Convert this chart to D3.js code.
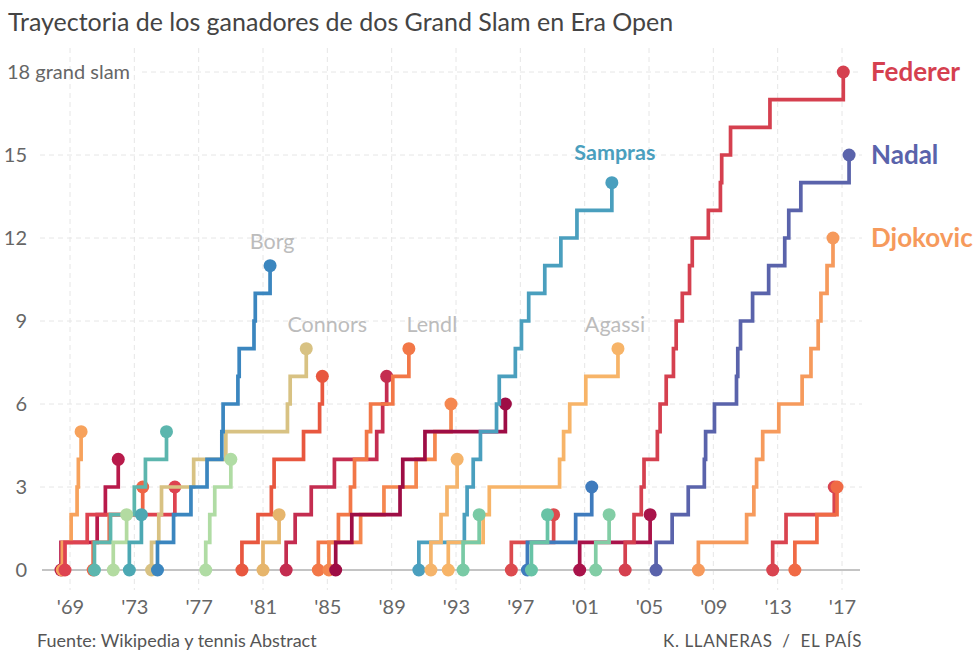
<!DOCTYPE html>
<html><head><meta charset="utf-8">
<script src="https://cdn.jsdelivr.net/npm/d3@7"></script>
<style>
body{margin:0;background:#fff;}
svg{font-family:Lato,"Open Sans",sans-serif;display:block;}
</style></head><body>
<svg id="chart" width="980" height="659"></svg>
<script>
// ---------- DATA ----------
const yTicks = [0, 3, 6, 9, 12, 15];
const xTickYears = [1969, 1973, 1977, 1981, 1985, 1989, 1993, 1997, 2001, 2005, 2009, 2013, 2017];
const xTickLabels = ["'69", "'73", "'77", "'81", "'85", "'89", "'93", "'97", "'01", "'05", "'09", "'13", "'17"];

// date (fractional year) of each Grand Slam title, per player
const rosewall  = [1968.44, 1970.69, 1971.20, 1972.00];
const laver     = [1968.52, 1969.07, 1969.44, 1969.52, 1969.69];
const ashe      = [1968.69, 1970.07, 1975.52];
const kodes     = [1970.44, 1971.44, 1973.52];
const newcombe  = [1970.52, 1971.52, 1973.00, 1973.69, 1975.00];
const smith     = [1971.69, 1972.52];
const nastase   = [1972.69, 1973.44];
const connors   = [1974.07, 1974.52, 1974.69, 1976.69, 1978.69, 1982.52, 1982.69, 1983.69];
const borg      = [1974.44, 1975.44, 1976.52, 1977.52, 1978.44, 1978.52, 1979.44, 1979.52, 1980.44, 1980.52, 1981.44];
const vilas     = [1977.44, 1977.69, 1978.00, 1979.00];
const mcenroe   = [1979.69, 1980.69, 1981.52, 1981.69, 1983.52, 1984.52, 1984.69];
const kriek     = [1981.00, 1982.00];
const wilander  = [1982.44, 1983.00, 1984.00, 1985.44, 1988.07, 1988.44, 1988.69];
const lendl     = [1984.44, 1985.69, 1986.44, 1986.69, 1987.44, 1987.69, 1989.07, 1990.07];
const edberg    = [1985.10, 1987.07, 1988.52, 1990.52, 1991.69, 1992.69];
const becker    = [1985.52, 1986.52, 1989.52, 1989.69, 1991.07, 1996.07];
const sampras   = [1990.69, 1993.52, 1993.69, 1994.07, 1994.52, 1995.52, 1995.69, 1996.69, 1997.07, 1997.52, 1998.52, 1999.52, 2000.52, 2002.69];
const courier   = [1991.44, 1992.07, 1992.44, 1993.07];
const agassi    = [1992.52, 1994.69, 1995.07, 1999.44, 1999.69, 2000.07, 2001.07, 2003.07];
const bruguera  = [1993.44, 1994.44];
const kafelnikov= [1996.44, 1999.07];
const kuerten   = [1997.44, 2000.44, 2001.44];
const rafter    = [1997.69, 1998.69];
const safin     = [2000.69, 2005.07];
const hewitt    = [2001.69, 2002.52];
const federer   = [2003.52, 2004.07, 2004.52, 2004.69, 2005.52, 2005.69, 2006.07, 2006.52, 2006.69, 2007.07, 2007.52, 2007.69, 2008.69, 2009.44, 2009.52, 2010.07, 2012.52, 2017.08];
const nadal     = [2005.44, 2006.44, 2007.44, 2008.44, 2008.52, 2009.07, 2010.44, 2010.52, 2010.69, 2011.44, 2012.44, 2013.44, 2013.69, 2014.44, 2017.44];
const djokovic  = [2008.07, 2011.07, 2011.52, 2011.69, 2012.07, 2013.07, 2014.52, 2015.07, 2015.52, 2015.69, 2016.07, 2016.44];
const murray    = [2012.69, 2013.52, 2016.52];
const wawrinka  = [2014.07, 2015.44, 2016.69];

const playerNames = ["Rosewall","Laver","Ashe","Kodes","Newcombe","Smith","Nastase","Connors","Borg","Vilas",
  "McEnroe","Kriek","Wilander","Lendl","Edberg","Becker","Sampras","Courier","Agassi","Bruguera",
  "Kafelnikov","Kuerten","Rafter","Safin","Hewitt","Federer","Nadal","Djokovic","Murray","Wawrinka"];
const playerTitles = [rosewall, laver, ashe, kodes, newcombe, smith, nastase, connors, borg, vilas,
  mcenroe, kriek, wilander, lendl, edberg, becker, sampras, courier, agassi, bruguera,
  kafelnikov, kuerten, rafter, safin, hewitt, federer, nadal, djokovic, murray, wawrinka];
const playerColors = ["#b81a4b","#f7a25c","#de4350","#ef6546","#5cb6ae","#b3dba1","#4ca8b3","#d8c283","#3b86bf","#b0dca4",
  "#e8573f","#e6b56c","#c42d50","#f27747","#f5874f","#9e0d45","#4a9fbe","#f5b46b","#f7b468","#79caa5",
  "#dc4a4e","#3f7bbd","#68c3a6","#a9134a","#82cda5","#d5404f","#5a63ab","#f69a5c","#d94450","#f06a45"];

// annotation labels
const greyLabels = ["Borg", "Connors", "Lendl", "Agassi"];
const colorLabels = ["Federer", "Nadal", "Djokovic"];

// ---------- CHART ----------
const svg = d3.select("#chart");
const x = d3.scaleLinear().domain([1969, 2017]).range([70, 842]);
const y = d3.scaleLinear().domain([0, 18]).range([570, 72]);

// title
svg.append("text").attr("x", 8).attr("y", 31)
  .attr("font-size", 25).attr("fill", "#444").text("Trayectoria de los ganadores de dos Grand Slam en Era Open");

// vertical grid
svg.append("g").selectAll("line").data(xTickYears).join("line")
  .attr("x1", d => x(d)).attr("x2", d => x(d)).attr("y1", 48).attr("y2", 590)
  .attr("stroke", "#e6e6e6").attr("stroke-width", 1).attr("stroke-dasharray", "5,4");

// horizontal grid
svg.append("g").selectAll("line").data(yTicks.filter(d => d > 0).concat([18])).join("line")
  .attr("x1", d => d === 18 ? 142 : 40).attr("x2", 862)
  .attr("y1", d => y(d)).attr("y2", d => y(d))
  .attr("stroke", "#e6e6e6").attr("stroke-width", 1).attr("stroke-dasharray", "5,4");

// baseline
svg.append("line").attr("x1", 42).attr("x2", 860).attr("y1", y(0)).attr("y2", y(0))
  .attr("stroke", "#c4c4c4").attr("stroke-width", 2);

// y axis labels
const yAxis = d3.axisLeft(y).tickValues(yTicks).tickSize(0).tickPadding(0).tickFormat(d3.format("d"));
const gy = svg.append("g").attr("transform", "translate(27,0)").call(yAxis);
gy.select(".domain").remove();
gy.selectAll("text").attr("font-size", 20).attr("fill", "#666").attr("font-family", "Lato");
svg.append("text").attr("x", 7).attr("y", y(18)).attr("dy", "0.35em")
  .attr("font-size", 20).attr("fill", "#666").text("18 grand slam");

// x axis labels
const xAxis = d3.axisBottom(x).tickValues(xTickYears).tickSize(0).tickPadding(0)
  .tickFormat((d, i) => xTickLabels[i]);
const gx = svg.append("g").attr("transform", "translate(0,600)").call(xAxis);
gx.select(".domain").remove();
gx.selectAll("text").attr("font-size", 20).attr("fill", "#666").attr("font-family", "Lato");

// lines
const line = d3.line().x(d => x(d[0])).y(d => y(d[1])).curve(d3.curveStepAfter);
const players = playerNames.map((n, i) => {
  const t = playerTitles[i];
  return { name: n, color: playerColors[i], pts: [[t[0], 0]].concat(t.map((d, k) => [d, k + 1])) };
});

const gp = svg.append("g");
players.forEach(p => {
  const g = gp.append("g");
  g.append("path").attr("d", line(p.pts)).attr("fill", "none")
    .attr("stroke", p.color).attr("stroke-width", 3.7).attr("stroke-linejoin", "miter");
  const first = p.pts[0], last = p.pts[p.pts.length - 1];
  g.selectAll("circle").data([first, last]).join("circle")
    .attr("cx", d => x(d[0])).attr("cy", d => y(d[1])).attr("r", 6.5).attr("fill", p.color);
});

// grey labels
const greyDx = {Borg: 2, Connors: 21, Lendl: 23, Agassi: -3};
greyLabels.forEach(n => {
  const p = players.find(q => q.name === n);
  const last = p.pts[p.pts.length - 1];
  svg.append("text").attr("x", x(last[0]) + greyDx[n]).attr("y", y(last[1]) - 17)
    .attr("text-anchor", "middle").attr("font-size", 21.5).attr("fill", "#bcbcbc").text(n);
});

// Sampras label
{
  const p = players.find(q => q.name === "Sampras");
  const last = p.pts[p.pts.length - 1];
  svg.append("text").attr("x", x(last[0]) + 3).attr("y", y(last[1]) - 23)
    .attr("text-anchor", "middle").attr("font-size", 21.5).attr("font-weight", 700)
    .attr("fill", p.color).text("Sampras");
}

// right labels
colorLabels.forEach(n => {
  const p = players.find(q => q.name === n);
  const last = p.pts[p.pts.length - 1];
  svg.append("text").attr("x", 871).attr("y", y(last[1])).attr("dy", "0.35em")
    .attr("font-size", 26).attr("font-weight", 700).attr("fill", p.color).text(n);
});

// footer
svg.append("text").attr("x", 37).attr("y", 647).attr("font-size", 18).attr("fill", "#555")
  .text("Fuente: Wikipedia y tennis Abstract");
svg.append("text").attr("x", 862).attr("y", 647).attr("text-anchor", "end")
  .attr("font-size", 17).attr("fill", "#555").attr("letter-spacing", 0.6)
  .attr("xml:space", "preserve").text("K. LLANERAS  /  EL PAÍS");
</script>
</body></html>
